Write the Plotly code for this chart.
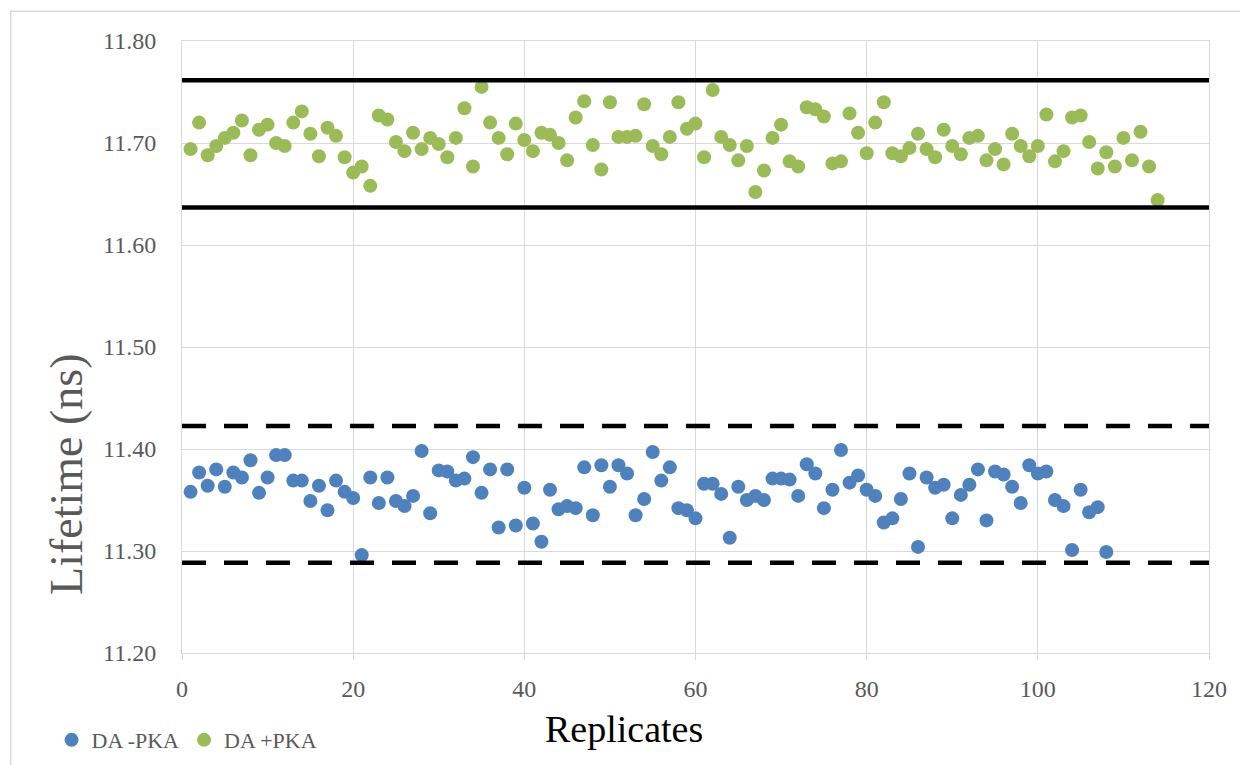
import plotly.graph_objects as go

replicates_minus = list(range(1, 109))
lifetime_minus_pka = [
    11.358, 11.377, 11.364, 11.380, 11.363, 11.377, 11.372, 11.389, 11.357, 11.372,
    11.394, 11.394, 11.369, 11.369, 11.349, 11.364, 11.340, 11.369, 11.358, 11.352,
    11.296, 11.372, 11.347, 11.372, 11.349, 11.344, 11.354, 11.398, 11.337, 11.379,
    11.378, 11.369, 11.371, 11.392, 11.357, 11.380, 11.323, 11.380, 11.325, 11.362,
    11.327, 11.309, 11.360, 11.341, 11.344, 11.342, 11.382, 11.335, 11.384, 11.363,
    11.384, 11.376, 11.335, 11.351, 11.397, 11.369, 11.382, 11.342, 11.340, 11.332,
    11.366, 11.366, 11.356, 11.313, 11.363, 11.350, 11.354, 11.350, 11.371, 11.371,
    11.370, 11.354, 11.385, 11.376, 11.342, 11.360, 11.399, 11.367, 11.374, 11.360,
    11.354, 11.328, 11.332, 11.351, 11.376, 11.304, 11.372, 11.362, 11.365, 11.332,
    11.355, 11.365, 11.380, 11.330, 11.378, 11.375, 11.363, 11.347, 11.384, 11.376,
    11.378, 11.350, 11.344, 11.301, 11.360, 11.338, 11.343, 11.299,
]

replicates_plus = list(range(1, 115))
lifetime_plus_pka = [
    11.694, 11.720, 11.688, 11.697, 11.705, 11.710, 11.722, 11.688, 11.713, 11.718,
    11.700, 11.697, 11.720, 11.731, 11.709, 11.687, 11.715, 11.707, 11.686, 11.671,
    11.677, 11.658, 11.727, 11.723, 11.701, 11.692, 11.710, 11.694, 11.705, 11.699,
    11.686, 11.705, 11.734, 11.677, 11.755, 11.720, 11.705, 11.689, 11.719, 11.703,
    11.692, 11.710, 11.708, 11.700, 11.683, 11.725, 11.741, 11.698, 11.674, 11.740,
    11.706, 11.706, 11.707, 11.738, 11.697, 11.689, 11.706, 11.740, 11.714, 11.719,
    11.686, 11.752, 11.706, 11.698, 11.683, 11.697, 11.652, 11.673, 11.705, 11.718,
    11.682, 11.677, 11.735, 11.733, 11.726, 11.680, 11.682, 11.729, 11.710, 11.690,
    11.720, 11.740, 11.690, 11.687, 11.695, 11.709, 11.694, 11.686, 11.713, 11.697,
    11.689, 11.705, 11.707, 11.683, 11.694, 11.679, 11.709, 11.697, 11.687, 11.697,
    11.728, 11.682, 11.692, 11.725, 11.727, 11.701, 11.675, 11.691, 11.677, 11.705,
    11.683, 11.711, 11.677, 11.644,
]

limit_x = [0, 120]
solid_limits = [11.7615, 11.6367]
dashed_limits = [11.4225, 11.2886]

series_names = ["DA -PKA", "DA +PKA"]
x_ticks = [0, 20, 40, 60, 80, 100, 120]
y_ticks = [11.20, 11.30, 11.40, 11.50, 11.60, 11.70, 11.80]

BLUE = "#4F81BD"
GREEN = "#9BBB59"
GRID = "#D9D9D9"
TXT = "#595959"
FONT = "Liberation Serif"

fig = go.Figure()
fig.add_trace(go.Scatter(x=replicates_minus, y=lifetime_minus_pka, mode="markers",
                         name=series_names[0], marker=dict(color=BLUE, size=14)))
fig.add_trace(go.Scatter(x=replicates_plus, y=lifetime_plus_pka, mode="markers",
                         name=series_names[1], marker=dict(color=GREEN, size=14)))
for v in solid_limits:
    fig.add_trace(go.Scatter(x=limit_x, y=[v, v], mode="lines", showlegend=False,
                             hoverinfo="skip", line=dict(color="black", width=4.5)))
for v in dashed_limits:
    fig.add_trace(go.Scatter(x=limit_x, y=[v, v], mode="lines", showlegend=False,
                             hoverinfo="skip",
                             line=dict(color="black", width=4.5, dash="24px,18px")))

fig.update_layout(
    width=1240, height=757,
    margin=dict(l=174, r=39, t=33, b=112, autoexpand=False),
    paper_bgcolor="white", plot_bgcolor="white",
    font=dict(family=FONT, color=TXT, size=24),
    showlegend=True,
    legend=dict(orientation="h", x=-0.127, y=-0.1422, xanchor="left", yanchor="middle",
                font=dict(family=FONT, size=22, color=TXT), bgcolor="rgba(0,0,0,0)",
                itemwidth=30),
    xaxis=dict(range=[0, 120], tickvals=x_ticks, showgrid=True, gridcolor=GRID, gridwidth=1,
               zeroline=False, showline=True, linecolor=GRID, linewidth=1, mirror=True,
               ticks="outside", ticklen=6, tickcolor=GRID, ticklabelstandoff=8,
               tickfont=dict(family=FONT, size=24, color=TXT)),
    yaxis=dict(range=[11.2, 11.8], tickvals=y_ticks, tickformat=".2f", showgrid=True,
               gridcolor=GRID, gridwidth=1, zeroline=False, showline=True, linecolor=GRID,
               linewidth=1, mirror=True, ticks="", ticklabelstandoff=20,
               tickfont=dict(family=FONT, size=24, color=TXT)),
    annotations=[
        dict(text="Lifetime (ns)", xref="paper", yref="paper", x=-0.1123, y=0.292,
             xanchor="center", yanchor="middle", textangle=-90, showarrow=False,
             font=dict(family=FONT, size=46, color=TXT)),
        dict(text="Replicates", xref="paper", yref="paper", x=0.430, y=-0.124,
             xanchor="center", yanchor="middle", showarrow=False,
             font=dict(family=FONT, size=38, color="black")),
    ],
    shapes=[
        dict(type="rect", xref="paper", yref="paper", x0=-0.1668, x1=1.06, y0=-0.25, y1=1.0485,
             line=dict(color=GRID, width=1.5), fillcolor="rgba(0,0,0,0)", layer="below"),
    ],
)

fig.write_html("out.html")
